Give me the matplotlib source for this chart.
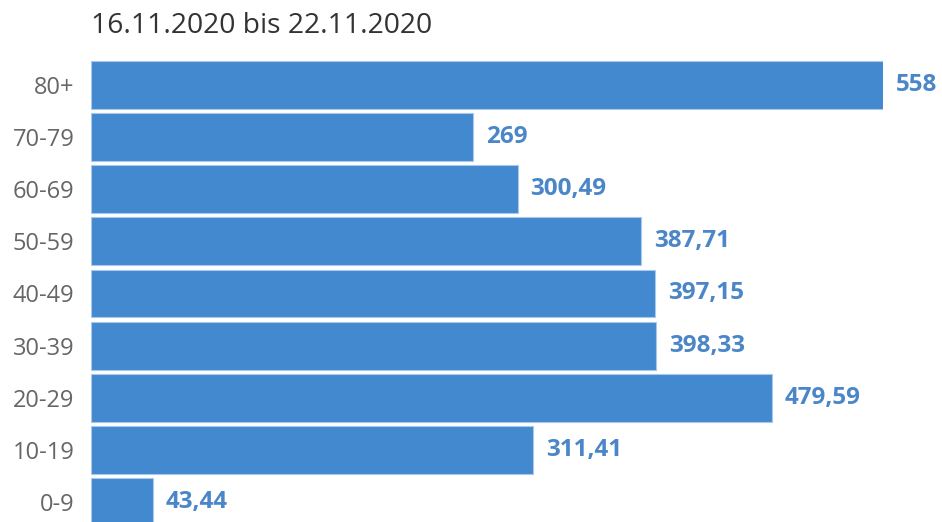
import matplotlib
matplotlib.use("Agg")
import matplotlib.pyplot as plt

categories = ["0-9", "10-19", "20-29", "30-39", "40-49", "50-59", "60-69", "70-79", "80+"]
values = [43.44, 311.41, 479.59, 398.33, 397.15, 387.71, 300.49, 269, 558]
labels = ["43,44", "311,41", "479,59", "398,33", "397,15", "387,71", "300,49", "269", "558"]
title = "16.11.2020 bis 22.11.2020"

W, H = 942, 522
fig = plt.figure(figsize=(W / 100, H / 100), dpi=100)
fig.patch.set_facecolor("white")

left_px = 91
right_px = 883
ax = fig.add_axes([left_px / W, 0, (right_px - left_px) / W, 1])
ax.set_facecolor("none")

pos = list(range(len(categories)))
ax.barh(pos, values, height=0.92, color="#4289d0", edgecolor="#a9c8ea", linewidth=0.8)

ax.set_xlim(0, max(values))
top_val = 8 + 85 * 8 / 417
bot_val = -20 * 8 / 417
ax.set_ylim(bot_val, top_val)

for p, v, lab in zip(pos, values, labels):
    ax.annotate(lab, (v, p), xytext=(13, 0), textcoords="offset pixels",
                ha="left", va="center", color="#4a86c8", fontsize=17.5,
                fontweight="bold", family="Open Sans", annotation_clip=False)

ax.set_yticks(pos)
ax.set_yticklabels(categories, family="Open Sans", fontsize=17, color="#666666")
ax.tick_params(axis="y", length=0, pad=12)
ax.set_xticks([])
for s in ax.spines.values():
    s.set_visible(False)

fig.text(left_px / W, 1 - 33 / H, title, ha="left", va="baseline",
         family="Open Sans", fontsize=20.3, color="#333333")

fig.savefig("out.png", dpi=100, facecolor="white")
